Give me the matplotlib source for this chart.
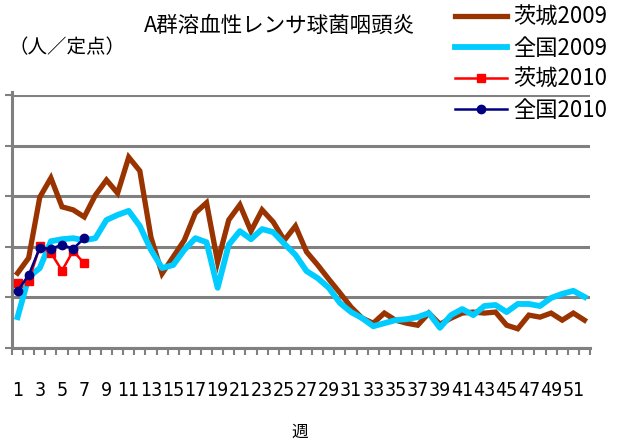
import matplotlib.pyplot as plt
import numpy as np

plt.rcParams['font.family'] = ['Noto Sans CJK JP', 'DejaVu Sans']

weeks = list(range(1, 53))

ibaraki_2009 = [1.48, 1.78, 2.98, 3.36, 2.79, 2.73, 2.59, 3.02, 3.32, 3.06,
                3.77, 3.50, 2.19, 1.47, 1.80, 2.13, 2.67, 2.87, 1.70, 2.53,
                2.83, 2.31, 2.73, 2.49, 2.13, 2.41, 1.90, 1.64, 1.36, 1.09,
                0.81, 0.59, 0.49, 0.69, 0.55, 0.49, 0.45, 0.69, 0.47, 0.59,
                0.69, 0.71, 0.69, 0.71, 0.45, 0.38, 0.65, 0.61, 0.69, 0.55,
                0.69, 0.55]

zenkoku_2009 = [0.61, 1.40, 1.58, 2.11, 2.15, 2.17, 2.13, 2.17, 2.53, 2.63,
                2.71, 2.41, 1.94, 1.58, 1.64, 1.94, 2.17, 2.09, 1.19, 2.04,
                2.31, 2.15, 2.35, 2.29, 2.06, 1.84, 1.52, 1.38, 1.19, 0.89,
                0.71, 0.59, 0.43, 0.49, 0.55, 0.57, 0.61, 0.69, 0.40, 0.65,
                0.77, 0.65, 0.83, 0.85, 0.71, 0.87, 0.87, 0.83, 0.99, 1.07,
                1.13, 1.01]

ibaraki_2010 = [1.28, 1.32, 2.01, 1.88, 1.53, 1.92, 1.67]
zenkoku_2010 = [1.13, 1.44, 1.98, 1.96, 2.04, 1.96, 2.17]

title = 'A群溶血性レンサ球菌咽頭炎'
labels = ['茨城2009', '全国2009', '茨城2010', '全国2010']

fig = plt.figure(figsize=(6.29, 4.41), dpi=100)
ax = fig.add_axes([12/629, 1 - 348/441, 578/629, 253/441])

ax.plot(weeks, ibaraki_2009, color='#993300', lw=3.8, solid_joinstyle='miter', label=labels[0], zorder=3)
ax.plot(weeks, zenkoku_2009, color='#00CCFF', lw=4.2, solid_joinstyle='round', label=labels[1], zorder=4)
ax.plot(weeks[:len(ibaraki_2010)], ibaraki_2010, color='#FF0000', lw=1.8,
        marker='s', ms=6, label=labels[2], zorder=5)
ax.plot(weeks[:len(zenkoku_2010)], zenkoku_2010, color='#000080', lw=1.8,
        marker='o', ms=6, label=labels[3], zorder=6)

ax.set_xlim(0.5, 52.5)
ax.set_ylim(0, 5)

# grid
ax.set_yticks([0, 1, 2, 3, 4, 5])
ax.set_yticklabels([])
ax.yaxis.grid(True, color='#808080', lw=2.2)
ax.tick_params(axis='y', length=5, width=1.5, color='#808080')

ax.set_xticks(weeks[::2])
ax.set_xticklabels([str(w) for w in weeks[::2]], fontsize=14,
                   family='DejaVu Sans', fontstretch='condensed')
ax.set_xticks(np.arange(0.5, 53, 1), minor=True)
ax.tick_params(axis='x', which='major', length=0, pad=24)
ax.tick_params(axis='x', which='minor', length=5, width=1.5, color='#808080')

for s in ['top', 'right']:
    ax.spines[s].set_visible(False)
for s in ['left', 'bottom']:
    ax.spines[s].set_color('#808080')
    ax.spines[s].set_linewidth(2.2)
ax.spines['left'].set_bounds(0, 5.05)

fig.text(279/629, 1 - 26/441, title, fontsize=15.5, ha='center', va='center')
fig.text(8/629, 1 - 48/441, '（人／定点）', fontsize=14, ha='left', va='center')
fig.text(300/629, 1 - 432/441, '週', fontsize=12, ha='center', va='center')

fig.legend(loc='upper left', bbox_to_anchor=(455/629, 1 - 6/441), frameon=False,
           fontsize=16, handlelength=2.35, handletextpad=0.25, labelspacing=0.36,
           borderpad=0, borderaxespad=0)

fig.savefig('out.png', dpi=100)
